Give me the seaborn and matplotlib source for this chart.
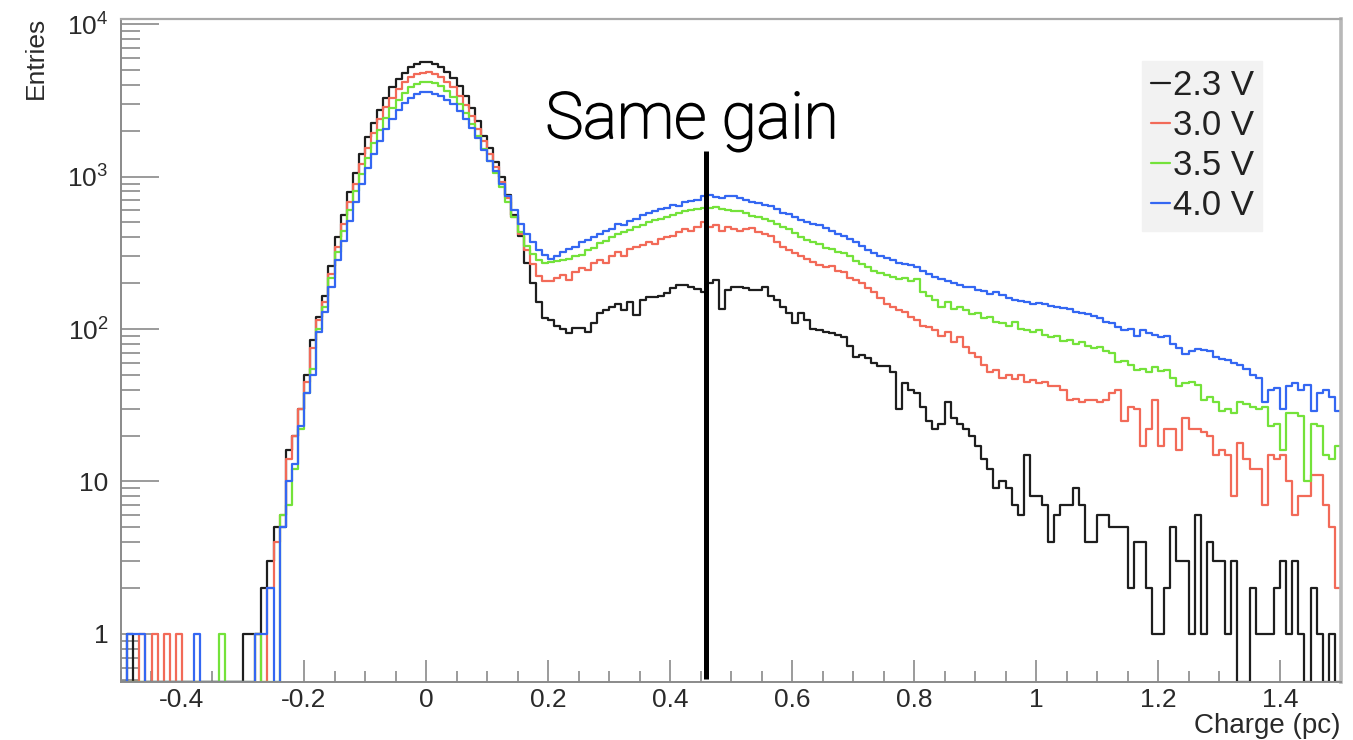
import numpy as np
import pandas as pd
import matplotlib
matplotlib.use("Agg")
import matplotlib.pyplot as plt
from matplotlib.lines import Line2D
from matplotlib.ticker import LogLocator, MultipleLocator, NullFormatter
import matplotlib.patheffects as pe
import seaborn as sns

sns.set_theme(style="white")
plt.rcParams["font.family"] = ["Liberation Sans", "DejaVu Sans"]
plt.rcParams["mathtext.fontset"] = "custom"
plt.rcParams["mathtext.rm"] = "Liberation Sans"
plt.rcParams["mathtext.it"] = "Liberation Sans:italic"

# ---------------- data ----------------
BIN_LO, BIN_HI, BIN_W = -0.5, 1.5, 0.01
voltages = ["2.3 V", "3.0 V", "3.5 V", "4.0 V"]
colors = ["#1e1e1e", "#f26a58", "#74e23a", "#3467f2"]

counts_23V = [
    0, 1, 0, 0, 0, 0, 0, 0, 0, 0,
    0, 0, 0, 0, 0, 0, 0, 0, 0, 0,
    1, 1, 1, 2, 3, 5, 5, 16, 20, 30,
    50, 85, 120, 165, 260, 400, 560, 790, 1060, 1400,
    1820, 2250, 2750, 3300, 3850, 4350, 4800, 5200, 5450, 5600,
    5620, 5450, 5200, 4850, 4400, 3900, 3400, 2800, 2300, 1850,
    1550, 1250, 1000, 760, 560, 410, 270, 200, 150, 118,
    115, 104, 100, 94, 101, 101, 96, 110, 127, 133,
    140, 147, 133, 150, 124, 155, 163, 163, 165, 172,
    185, 195, 195, 188, 182, 175, 200, 210, 136, 180,
    189, 189, 185, 180, 180, 189, 165, 155, 140, 127,
    109, 127, 115, 100, 98, 96, 94, 92, 89, 77,
    66, 68, 65, 60, 57, 57, 52, 30, 44, 40,
    38, 31, 25, 22, 24, 33, 26, 24, 22, 20,
    17, 14, 12, 9, 10, 9, 7, 6, 15, 8,
    8, 7, 4, 6, 7, 7, 9, 7, 4, 4,
    6, 6, 5, 5, 5, 2, 4, 4, 2, 1,
    1, 2, 5, 3, 3, 1, 6, 1, 4, 3,
    3, 1, 3, 0, 0, 2, 1, 1, 1, 2,
    3, 1, 3, 1, 0, 2, 1, 0, 1, 0,
]
counts_30V = [
    0, 0, 0, 1, 0, 1, 0, 1, 0, 1,
    0, 0, 0, 0, 0, 0, 0, 0, 0, 0,
    0, 0, 1, 0, 2, 4, 6, 14, 20, 30,
    45, 75, 115, 150, 230, 345, 490, 680, 900, 1200,
    1550, 1930, 2370, 2840, 3300, 3750, 4150, 4480, 4700, 4800,
    4820, 4700, 4500, 4200, 3850, 3400, 2950, 2500, 2050, 1700,
    1400, 1150, 920, 720, 540, 420, 330, 265, 222, 205,
    205, 215, 225, 210, 235, 250, 245, 270, 285, 270,
    300, 320, 300, 335, 345, 355, 370, 360, 390, 400,
    410, 430, 450, 440, 470, 500, 470, 480, 440, 470,
    455, 440, 455, 460, 430, 420, 410, 370, 345, 330,
    315, 300, 290, 275, 262, 255, 260, 240, 235, 215,
    210, 200, 185, 175, 160, 145, 140, 133, 130, 120,
    115, 105, 103, 98, 90, 95, 82, 88, 76, 70,
    66, 58, 52, 54, 48, 50, 47, 50, 45, 46,
    44, 45, 42, 42, 40, 34, 35, 33, 34, 34,
    33, 34, 38, 40, 25, 31, 30, 17, 22, 34,
    17, 22, 22, 16, 26, 22, 22, 21, 20, 15,
    16, 15, 8, 18, 14, 12, 12, 7, 15, 14,
    15, 10, 6, 8, 8, 11, 11, 7, 5, 2,
]
counts_35V = [
    0, 0, 0, 0, 0, 0, 0, 0, 0, 0,
    0, 0, 0, 0, 0, 0, 1, 0, 0, 0,
    0, 0, 1, 0, 0, 0, 6, 7, 12, 22,
    38, 55, 100, 140, 215, 320, 440, 600, 800, 1040,
    1330, 1650, 2020, 2420, 2820, 3200, 3550, 3850, 4050, 4150,
    4150, 4080, 3900, 3650, 3350, 2980, 2600, 2200, 1850, 1520,
    1260, 1050, 860, 680, 540, 430, 350, 310, 285, 272,
    275, 280, 285, 290, 300, 305, 330, 340, 365, 380,
    400, 420, 430, 445, 470, 480, 500, 515, 525, 545,
    560, 580, 590, 600, 615, 625, 620, 630, 610, 600,
    595, 590, 575, 555, 540, 525, 510, 490, 470, 450,
    425, 400, 385, 370, 360, 340, 335, 320, 315, 300,
    280, 265, 255, 240, 232, 225, 218, 212, 215, 205,
    212, 175, 165, 155, 140, 150, 135, 140, 133, 125,
    128, 118, 120, 112, 110, 105, 112, 100, 98, 96,
    98, 92, 88, 90, 84, 85, 80, 82, 77, 75,
    76, 72, 70, 61, 62, 58, 54, 55, 52, 56,
    53, 54, 48, 42, 44, 45, 43, 34, 36, 33,
    29, 30, 28, 33, 32, 31, 30, 31, 23, 24,
    16, 28, 28, 27, 10, 24, 23, 15, 14, 17,
]
counts_40V = [
    0, 1, 1, 1, 0, 0, 0, 0, 0, 0,
    0, 0, 1, 0, 0, 0, 0, 0, 0, 0,
    0, 0, 1, 1, 2, 0, 5, 10, 13, 23,
    38, 50, 95, 130, 190, 285, 380, 510, 680, 890,
    1130, 1400, 1720, 2050, 2400, 2750, 3050, 3300, 3480, 3560,
    3560, 3500, 3380, 3200, 2980, 2700, 2400, 2080, 1780, 1500,
    1270, 1080, 900, 740, 600, 490, 420, 370, 330, 305,
    290, 300, 320, 335, 345, 370, 385, 400, 420, 440,
    455, 490, 480, 510, 530, 560, 580, 590, 610, 620,
    650, 640, 680, 690, 700, 740, 760, 730, 720, 740,
    740, 720, 700, 680, 670, 650, 640, 610, 580, 570,
    545, 520, 500, 490, 480, 460, 440, 420, 410, 390,
    370, 350, 330, 315, 300, 292, 285, 272, 265, 262,
    255, 240, 228, 220, 212, 205, 200, 195, 190, 188,
    180, 178, 170, 175, 168, 160, 155, 152, 150, 145,
    148, 145, 142, 140, 138, 136, 130, 128, 125, 122,
    118, 112, 110, 103, 98, 100, 90, 98, 94, 92,
    88, 90, 80, 75, 69, 72, 74, 73, 72, 66,
    64, 63, 60, 58, 55, 50, 48, 33, 40, 41,
    30, 42, 44, 40, 43, 29, 38, 40, 36, 29,
]
series = [counts_23V, counts_30V, counts_35V, counts_40V]

x_ticks = [-0.4, -0.2, 0, 0.2, 0.4, 0.6, 0.8, 1.0, 1.2, 1.4]
x_tick_labels = ["-0.4", "-0.2", "0", "0.2", "0.4", "0.6", "0.8", "1", "1.2", "1.4"]
y_ticks = [1, 10, 100, 1000, 10000]
y_tick_labels = ["1", "10", r"$10^{2}$", r"$10^{3}$", r"$10^{4}$"]

Y_MIN, Y_MAX = 0.484, 10800
SAME_GAIN_X = 0.459
SAME_GAIN_Y = (0.505, 1470)

# ---------------- figure ----------------
W, H = 1353, 740
fig = plt.figure(figsize=(W / 100, H / 100), dpi=100)
ax = fig.add_axes([121 / W, 1 - 682 / H, 1220 / W, 663 / H])

n_bins = len(counts_23V)
edges = [round(BIN_LO + BIN_W * k, 3) for k in range(n_bins + 1)]
centers = [round(BIN_LO + BIN_W * (k + 0.5), 4) for k in range(n_bins)]
for vals, lab, col in zip(series, voltages, colors):
    v = np.asarray(vals, dtype=float)
    shown = np.where(v > 0, v, Y_MIN)  # empty bins drawn on the axis floor, as ROOT does
    df = pd.DataFrame({"charge": centers, "entries": shown})
    sns.histplot(data=df, x="charge", weights="entries", bins=edges,
                 element="step", fill=False, color=col, linewidth=1.6,
                 ax=ax, legend=False)

ax.set_yscale("log")
ax.set_xlim(BIN_LO, BIN_HI)
ax.set_ylim(Y_MIN, Y_MAX)
ax.set_xlabel("")
ax.set_ylabel("")

ax.set_xticks(x_ticks)
ax.set_xticklabels(x_tick_labels)
ax.xaxis.set_minor_locator(MultipleLocator(0.05))
ax.set_yticks(y_ticks)
ax.set_yticklabels(y_tick_labels)
ax.yaxis.set_minor_locator(LogLocator(base=10, subs=np.arange(2, 10), numticks=20))
ax.yaxis.set_minor_formatter(NullFormatter())

tick_col = "#8a8a8a"
ax.tick_params(axis="x", which="major", direction="in", length=16, width=1.2,
               color=tick_col, labelsize=19, labelcolor="#2a2a2a", pad=4,
               bottom=True, top=False)
ax.tick_params(axis="x", which="minor", direction="in", length=8, width=1.2,
               color=tick_col, bottom=True, top=False)
ax.tick_params(axis="y", which="major", direction="in", length=27, width=1.2,
               color=tick_col, labelsize=19, labelcolor="#2a2a2a", pad=9,
               left=True, right=False)
ax.tick_params(axis="y", which="minor", direction="in", length=14, width=1.2,
               color=tick_col, left=True, right=False)

for side in ["left", "bottom"]:
    ax.spines[side].set_color("#8a8a8a")
    ax.spines[side].set_linewidth(1.4)
ax.spines["top"].set_color("#a8a8a8")
ax.spines["top"].set_linewidth(1.6)
ax.spines["right"].set_color("#b8b8b8")
ax.spines["right"].set_linewidth(2.6)

# "Same gain" marker
ax.plot([SAME_GAIN_X, SAME_GAIN_X], list(SAME_GAIN_Y), color="black", lw=3.6,
        solid_capstyle="butt", zorder=5)
fig.text(692 / W, 1 - 138 / H, "Same gain", ha="center", va="baseline",
         fontsize=46, color="black", family=["Roboto", "DejaVu Sans"],
         fontweight="light",
         path_effects=[pe.withStroke(linewidth=1.3, foreground="black")])

# axis titles (ROOT style)
fig.text(36 / W, 1 - 17 / H, "Entries", rotation=90, ha="center", va="top",
         fontsize=19, color="#2a2a2a")
fig.text(1340 / W, 1 - 733 / H, "Charge (pc)", ha="right", va="baseline",
         fontsize=20, color="#2a2a2a")

# legend
handles = [Line2D([0], [0], color=c, lw=1.6) for c in colors]
leg = ax.legend(handles, voltages, loc="upper left", bbox_to_anchor=(0.837, 0.937),
                fontsize=25, handlelength=0.55, handletextpad=0.08,
                labelspacing=0.2, borderpad=0.25, borderaxespad=0.0,
                frameon=True, fancybox=False, framealpha=1.0)
leg.get_frame().set_facecolor("#f2f2f2")
leg.get_frame().set_edgecolor("#f2f2f2")
for t in leg.get_texts():
    t.set_color("#222222")

fig.savefig("out.png", dpi=100)
